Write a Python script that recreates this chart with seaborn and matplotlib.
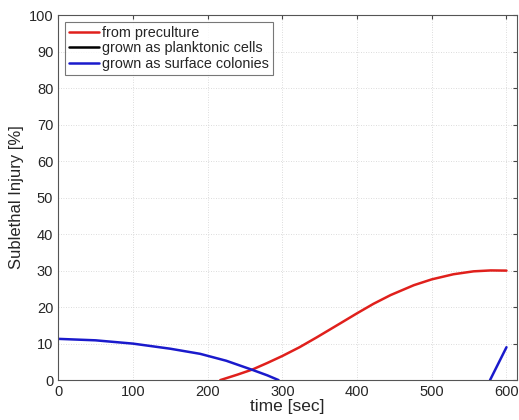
import numpy as np
import pandas as pd
import matplotlib
matplotlib.use("Agg")
import matplotlib.pyplot as plt
import seaborn as sns

# ==========================================
# DATA
# ==========================================

red_t = [217, 240, 260, 280, 300, 323, 346, 378, 400, 422, 445, 476, 500, 529, 556, 579, 600]
red_v = [0, 1.5, 2.9, 4.7, 6.6, 9.0, 11.7, 15.6, 18.3, 20.9, 23.3, 26.0, 27.6, 29.0, 29.8, 30.05, 30.0]

black_t = []
black_v = []

blue_t1 = [0, 50, 100, 150, 190, 225, 260, 280, 295]
blue_v1 = [11.3, 10.9, 10.0, 8.6, 7.2, 5.3, 2.8, 1.3, 0]

blue_t2 = [578, 600]
blue_v2 = [0, 9.0]

labels = ["from preculture", "grown as planktonic cells", "grown as surface colonies"]

# ==========================================
# PLOT
# ==========================================

sns.set_style("white")
plt.rcParams['font.family'] = ['Liberation Sans', 'DejaVu Sans']

fig = plt.figure(figsize=(5.19, 4.2), dpi=100)
ax = fig.add_axes([0.112, 0.095, 0.884, 0.869])

sns.lineplot(x=red_t, y=red_v, ax=ax, color="#e0201c", lw=1.8, label=labels[0])
ax.plot(black_t, black_v, color="black", lw=1.8, label=labels[1])
sns.lineplot(x=blue_t1, y=blue_v1, ax=ax, color="#1a1acc", lw=1.8, label=labels[2])
sns.lineplot(x=blue_t2, y=blue_v2, ax=ax, color="#1a1acc", lw=1.8)

ax.set_xlim(0, 614)
ax.set_ylim(0, 100)
ax.set_xticks(range(0, 601, 100))
ax.set_yticks(range(0, 101, 10))
ax.grid(True, color="#d0d0d0", lw=0.6, linestyle=(0, (1, 2)))
ax.tick_params(direction="in", length=3, labelsize=10.5, top=True, right=True, color="#444444")
for s in ax.spines.values():
    s.set_color("#555555")
    s.set_linewidth(0.8)

ax.set_xlabel("time [sec]", fontsize=12.5, labelpad=0)
ax.set_ylabel("Sublethal Injury [%]", fontsize=12, labelpad=3)

leg = ax.legend(loc="upper left", fontsize=10.4, frameon=True, fancybox=False,
                borderaxespad=0.45, handlelength=2.1, handletextpad=0.2,
                labelspacing=0.1, borderpad=0.3)
leg.get_frame().set_edgecolor("#555555")
leg.get_frame().set_linewidth(0.8)

plt.savefig("out.png", dpi=100)
